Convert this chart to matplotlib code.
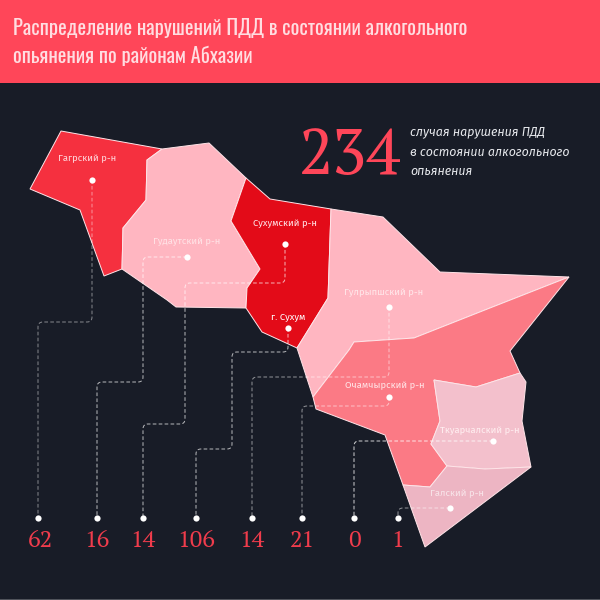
import matplotlib
matplotlib.use("Agg")
import matplotlib.pyplot as plt
from matplotlib.patches import Polygon, PathPatch, Rectangle
from matplotlib.path import Path
import logging
logging.getLogger("matplotlib.font_manager").setLevel(logging.ERROR)

BG = "#181c27"
RED = "#ff4659"
NUM = "#f03c4c"
F_TITLE = ["Oswald", "Roboto"]
F_LABEL = ["Fira Sans", "Open Sans"]
F_SERIF = ["PT Serif", "Liberation Serif"]

title_lines = ["Распределение нарушений ПДД в состоянии алкогольного",
               "опьянения по районам Абхазии"]
total = 234
total_caption = ["случая нарушения ПДД", "в состоянии алкогольного", "опьянения"]
districts = ["Гагрский р-н", "Гудаутский р-н", "Сухумский р-н", "г. Сухум",
             "Гулрыпшский р-н", "Очамчырский р-н", "Ткуарчалский р-н", "Галский р-н"]
values = [62, 16, 14, 106, 14, 21, 0, 1]
label_xy = [(87, 159), (187, 242), (285, 224), (288, 317),
            (384, 293), (385, 386), (480, 431), (457, 494)]
label_colors = ["#ffd5da", "#ffe2e6", "#ffe3e6", "#ffffff", "#ffe6e9", "#ffe3e6", "#ffeef0", "#f8e4e9"]

gagra = [(61,131),(162,149),(147,160),(146,200),(123,228),(122,269),(104,276),(80,210),(30,189)]
gudauta = [(162,149),(209,143),(246,178),(231,221),(260,269),(247,288),(246,308),(176,307),(167,300),(122,269),(123,228),(146,200),(147,160)]
sukhum = [(246,178),(270,199),(331,209),(328,298),(297,348),(262,332),(246,308),(247,288),(260,269),(231,221)]
gulrypsh = [(331,209),(383,217),(440,272),(569,277),(490,308),(414,338),(354,342),(349,350),(313,397),(297,348),(328,298)]
ochamchira = [(569,277),(510,351),(520,373),(476,387),(434,380),(440,421),(431,444),(447,466),(430,487),(403,485),(385,435),(316,409),(313,397),(349,350),(354,342),(414,338),(490,308)]
tkuarchal = [(434,380),(476,387),(520,373),(526,382),(522,421),(531,467),(485,469),(447,466),(431,444),(440,421)]
gal = [(403,485),(430,487),(447,466),(485,469),(531,467),(425,547)]
regions = [gagra, gudauta, sukhum, gulrypsh, ochamchira, tkuarchal, gal]
region_colors = ["#f5303f", "#ffb6c1", "#e30b18", "#ffb6c1", "#fb7a85", "#f3c0cc", "#edb5c3"]

leaders = [
    [(92,180),(92,322),(38,322),(38,518)],
    [(187,257),(143,257),(143,382),(97,382),(97,518)],
    [(285,244),(285,283),(185,283),(185,424),(143,424),(143,518)],
    [(288,328),(288,352),(232,352),(232,449),(196,449),(196,518)],
    [(389,307),(389,377),(252,377),(252,518)],
    [(389,397),(389,406),(302,406),(302,518)],
    [(493,441),(354,441),(354,518)],
    [(450,508),(398,508),(398,518)],
]
leader_alpha = [0.45, 0.65, 0.65, 0.65, 0.5, 0.5, 0.75, 0.5]

fig = plt.figure(figsize=(6, 6), dpi=100, facecolor=BG)
ax = fig.add_axes([0, 0, 1, 1])
ax.set_xlim(0, 600)
ax.set_ylim(600, 0)
ax.axis("off")

ax.add_patch(Rectangle((0, 0), 600, 83, fc=RED, ec="none", zorder=1))
ax.add_patch(Rectangle((0, 599), 600, 1, fc="#50535b", ec="none", zorder=1))
for ln, y in zip(title_lines, (28.5, 55.5)):
    ax.text(13, y, ln, color="#ffdde1", fontsize=14.8, family=F_TITLE, weight="light",
            va="center", ha="left", zorder=5)

for pts, c in zip(regions, region_colors):
    ax.add_patch(Polygon(pts, closed=True, fc=c, ec="#ffe4e8", lw=0.7, joinstyle="miter", zorder=2))


def rounded(pts, r=5):
    verts = [pts[0]]
    codes = [Path.MOVETO]
    for i in range(1, len(pts) - 1):
        (x0, y0), (x1, y1), (x2, y2) = pts[i - 1], pts[i], pts[i + 1]
        d0 = max(abs(x1 - x0), abs(y1 - y0))
        d1 = max(abs(x2 - x1), abs(y2 - y1))
        ra = min(r, d0 / 2)
        rb = min(r, d1 / 2)
        a = (x1 - (x1 - x0) / d0 * ra, y1 - (y1 - y0) / d0 * ra)
        b = (x1 + (x2 - x1) / d1 * rb, y1 + (y2 - y1) / d1 * rb)
        verts += [a, (x1, y1), b]
        codes += [Path.LINETO, Path.CURVE3, Path.CURVE3]
    verts.append(pts[-1])
    codes.append(Path.LINETO)
    return Path(verts, codes)


for pts, a in zip(leaders, leader_alpha):
    ax.add_patch(PathPatch(rounded(pts), fc="none", ec="white", alpha=a, lw=0.75,
                           linestyle=(0, (3.5, 2.2)), zorder=3))
    ax.scatter(*pts[0], s=20, c="white", linewidths=0, zorder=4)
    ax.scatter(*pts[-1], s=20, c="white", linewidths=0, zorder=4)

for name, (x, y), c in zip(districts, label_xy, label_colors):
    ax.text(x, y, name, color=c, fontsize=6.8, family=F_LABEL, ha="center", va="center", zorder=5)

for v, pts in zip(values, leaders):
    ax.text(pts[-1][0] + (2 if pts[-1][0] < 50 else 0), 541, str(v), color=NUM, fontsize=17,
            family=F_SERIF, ha="center", va="center", zorder=5)

ax.text(350, 156, str(total), color=RED, fontsize=46, family=F_SERIF,
        ha="center", va="center", zorder=5)
for ln, y in zip(total_caption, (132, 152, 171)):
    ax.text(410, y, ln, color="#e6e8ec", fontsize=8.95, family=F_LABEL, style="italic",
            ha="left", va="center", zorder=5)

fig.savefig("out.png", dpi=100, facecolor=BG)
